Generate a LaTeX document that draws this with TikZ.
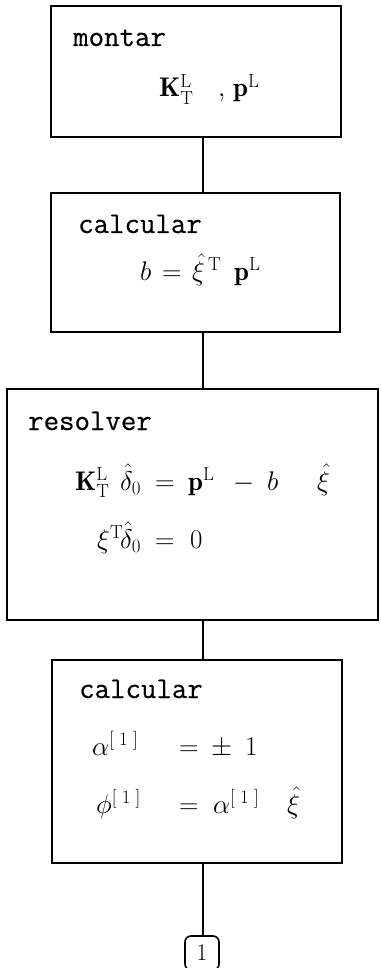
\RequirePackage{fix-cm}
\documentclass[tikz,border=0pt]{standalone}
\usepackage{amsmath}
\usepackage{fontspec}
\newfontfamily\twfont{Latin Modern Mono}[FakeBold=0.5]
\newcommand{\eqpart}[2]{\makebox[#1][l]{$#2$}}
\tikzset{
  box/.style={draw, line width=1.6pt, rectangle, inner sep=0pt},
  conn/.style={line width=1.6pt},
  lbl/.style={anchor=base west, inner sep=0pt, font=\fontsize{30}{34}\selectfont\twfont},
  eq/.style={anchor=base west, inner sep=0pt, font=\fontsize{27}{30}\selectfont},
  term/.style={draw, line width=1.6pt, rounded corners=6pt, minimum width=34pt, minimum height=34pt, inner sep=0pt, font=\fontsize{24}{28}\selectfont}
}
\begin{document}
\begin{tikzpicture}[x=1pt, y=-1pt]
\useasboundingbox (0,0) rectangle (380,968);
% boxes
\node[box, minimum width=290pt, minimum height=131pt] (b1) at (196,71.5) {};
\node[box, minimum width=289pt, minimum height=139pt] (b2) at (195.5,262.5) {};
\node[box, minimum width=371pt, minimum height=231pt] (b3) at (192.5,504.5) {};
\node[box, minimum width=290pt, minimum height=203pt] (b4) at (197,761.5) {};
\node[term] (t) at (202,953) {$1$};
\coordinate (ax) at (203,0);
% connectors
\draw[conn] (b1.south -| ax) -- (b2.north -| ax);
\draw[conn] (b2.south -| ax) -- (b3.north -| ax);
\draw[conn] (b3.south -| ax) -- (b4.north -| ax);
\draw[conn] (b4.south -| ax) -- (t.north -| ax);
% texts
\node[lbl] (l1) at (73,46) {montar};
\node[eq] (e1) at (159,97) {\eqpart{59pt}{\mathbf{K}_{\mathrm{T}}^{\mathrm{L}}}\eqpart{15pt}{,}$\mathbf{p}^{\mathrm{L}}$};
\node[lbl] (l2) at (78,233) {calcular};
\node[eq] (e2) at (140,280) {\eqpart{22pt}{b}\eqpart{30pt}{=}\eqpart{42pt}{\hat{\xi}^{\,\mathrm{T}}}$\mathbf{p}^{\mathrm{L}}$};
\node[lbl] (l3) at (28,430) {resolver};
\node[eq] (e3) at (75,490) {\eqpart{45pt}{\mathbf{K}_{\mathrm{T}}^{\mathrm{L}}}\eqpart{35pt}{\hat{\delta}_{0}}\eqpart{33pt}{=}\eqpart{45pt}{\mathbf{p}^{\mathrm{L}}}\eqpart{34pt}{-}\eqpart{50pt}{b}$\hat{\xi}$};
\node[eq] (e4) at (97,548) {\eqpart{23pt}{\xi^{\mathrm{T}}}\eqpart{35pt}{\hat{\delta}_{0}}\eqpart{35pt}{=}$0$};
\node[lbl] (l4) at (79,698) {calcular};
\node[eq] (e5) at (92,755) {\eqpart{87pt}{\alpha^{[\;1\;]}}\eqpart{32pt}{=}\eqpart{34pt}{\pm}$1$};
\node[eq] (e6) at (96,813) {\eqpart{83pt}{\phi^{[\;1\;]}}\eqpart{34pt}{=}\eqpart{74pt}{\alpha^{[\;1\;]}}$\hat{\xi}$};
\end{tikzpicture}
\end{document}
